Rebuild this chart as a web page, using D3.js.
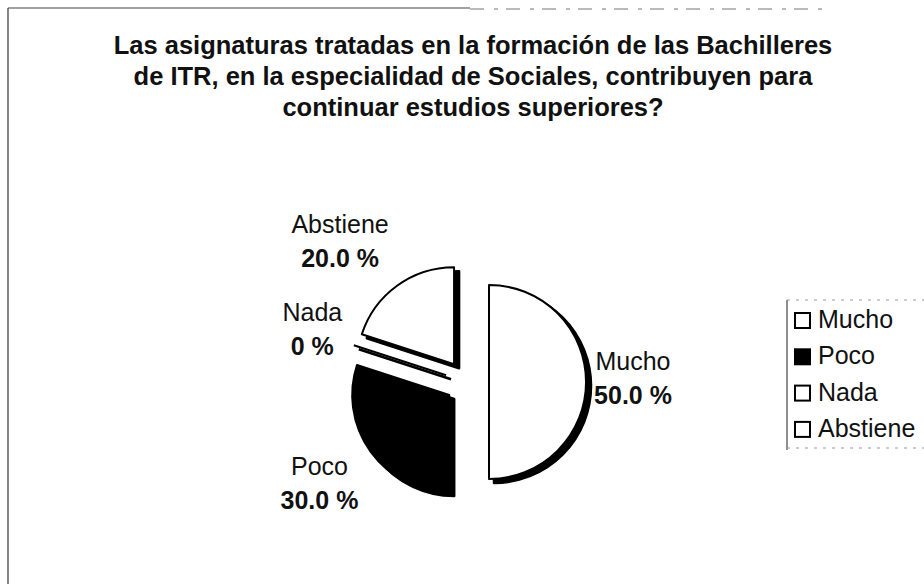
<!DOCTYPE html>
<html>
<head>
<meta charset="utf-8">
<script src="https://cdn.jsdelivr.net/npm/d3@7/dist/d3.min.js"></script>
<style>
  html, body { margin: 0; padding: 0; background: #fff; }
  svg { display: block; font-family: "Liberation Sans", Arial, sans-serif; }
</style>
</head>
<body>
<svg id="chart" width="924" height="584"></svg>
<script>
// ---- data ----
const titleLines = [
  "Las asignaturas tratadas en la formación de las Bachilleres",
  "de ITR, en la especialidad de Sociales, contribuyen para",
  "continuar estudios superiores?"
];
const categories = ["Mucho", "Poco", "Nada", "Abstiene"];
const values = [50, 30, 0, 20];
const fills = ["#ffffff", "#000000", "#ffffff", "#ffffff"];

// ---- layout ----
const W = 924, H = 584;
const cx = 467, cy = 382, R = 97, explode = 22;
const shadow = { dx: 5, dy: 4 };
const labelR = 170;
const labelNudge = [[-4, 3], [-10, 8], [7, 7], [-27, 4]];
const fontSize = 25;

const svg = d3.select("#chart");

// frame (scanned page border)
svg.append("line").attr("x1", 8).attr("y1", 8).attr("x2", 8).attr("y2", H)
  .attr("stroke", "#444").attr("stroke-width", 1.3);
svg.append("line").attr("x1", 8).attr("y1", 8).attr("x2", 470).attr("y2", 8)
  .attr("stroke", "#444").attr("stroke-width", 1.2);
svg.append("line").attr("x1", 470).attr("y1", 9).attr("x2", 830).attr("y2", 9)
  .attr("stroke", "#777").attr("stroke-width", 1).attr("stroke-dasharray", "14 10 4 8");

// title
svg.append("text")
  .attr("x", 473).attr("y", 54)
  .attr("text-anchor", "middle")
  .attr("font-size", 25.5).attr("font-weight", "bold").attr("fill", "#111")
  .selectAll("tspan").data(titleLines).join("tspan")
  .attr("x", 473).attr("dy", (d, i) => i === 0 ? 0 : 31)
  .text(d => d);

// pie
const pie = d3.pie().sort(null).value(d => d.v).startAngle(0).endAngle(2 * Math.PI);
const arcs = pie(categories.map((c, i) => ({ c, v: values[i], i })));
const arcGen = d3.arc().innerRadius(0).outerRadius(R);

function dirOf(a) {
  const m = (a.startAngle + a.endAngle) / 2;
  return [Math.sin(m), -Math.cos(m)];
}

const g = svg.append("g").attr("transform", `translate(${cx},${cy})`);

const slices = g.selectAll("g.slice").data(arcs).join("g")
  .attr("class", "slice")
  .attr("transform", d => {
    const [ux, uy] = dirOf(d);
    return `translate(${ux * explode},${uy * explode})`;
  });

function slicePath(d) {
  if (d.endAngle - d.startAngle < 1e-6) {
    const a = d.startAngle;
    return `M0,0L${R * Math.sin(a)},${-R * Math.cos(a)}`;
  }
  return arcGen(d);
}

// shadows
slices.append("path")
  .attr("d", slicePath)
  .attr("transform", `translate(${shadow.dx},${shadow.dy})`)
  .attr("fill", "#000")
  .attr("stroke", "#000").attr("stroke-width", 2.5)
  .attr("stroke-linejoin", "round");
// faces
slices.append("path")
  .attr("d", slicePath)
  .attr("fill", d => fills[d.data.i])
  .attr("stroke", "#000").attr("stroke-width", 2)
  .attr("stroke-linejoin", "round");

// labels
const fmt = v => v === 0 ? "0 %" : d3.format(".1f")(v) + " %";
const labels = g.selectAll("g.lbl").data(arcs).join("g")
  .attr("class", "lbl")
  .attr("transform", d => {
    const [ux, uy] = dirOf(d);
    const n = labelNudge[d.data.i];
    return `translate(${ux * labelR + n[0]},${uy * labelR + n[1]})`;
  });
labels.append("text")
  .attr("text-anchor", "middle").attr("y", -15)
  .attr("font-size", fontSize).attr("fill", "#111")
  .text(d => d.data.c);
labels.append("text")
  .attr("text-anchor", "middle").attr("y", 19)
  .attr("font-size", fontSize).attr("font-weight", "bold").attr("fill", "#111")
  .text(d => fmt(d.data.v));

// legend
const lx = 787, ly = 300, lh = 150;
svg.append("line").attr("x1", lx).attr("y1", ly).attr("x2", lx).attr("y2", ly + lh)
  .attr("stroke", "#444").attr("stroke-width", 1.2);
svg.append("line").attr("x1", lx).attr("y1", ly).attr("x2", 924).attr("y2", ly)
  .attr("stroke", "#999").attr("stroke-width", 1).attr("stroke-dasharray", "3 6");
svg.append("line").attr("x1", lx).attr("y1", ly + lh - 2).attr("x2", 924).attr("y2", ly + lh - 2)
  .attr("stroke", "#999").attr("stroke-width", 1).attr("stroke-dasharray", "3 6");

const ly0 = 328, lstep = 36.3;
const leg = svg.selectAll("g.leg").data(categories).join("g")
  .attr("class", "leg")
  .attr("transform", (d, i) => `translate(${lx + 8},${ly0 + i * lstep})`);
leg.append("rect")
  .attr("x", 0).attr("y", -15).attr("width", 15).attr("height", 15)
  .attr("fill", (d, i) => fills[i]).attr("stroke", "#000").attr("stroke-width", 2);
leg.append("text")
  .attr("x", 23).attr("y", 0)
  .attr("font-size", fontSize).attr("fill", "#111")
  .text(d => d);
</script>
</body>
</html>
